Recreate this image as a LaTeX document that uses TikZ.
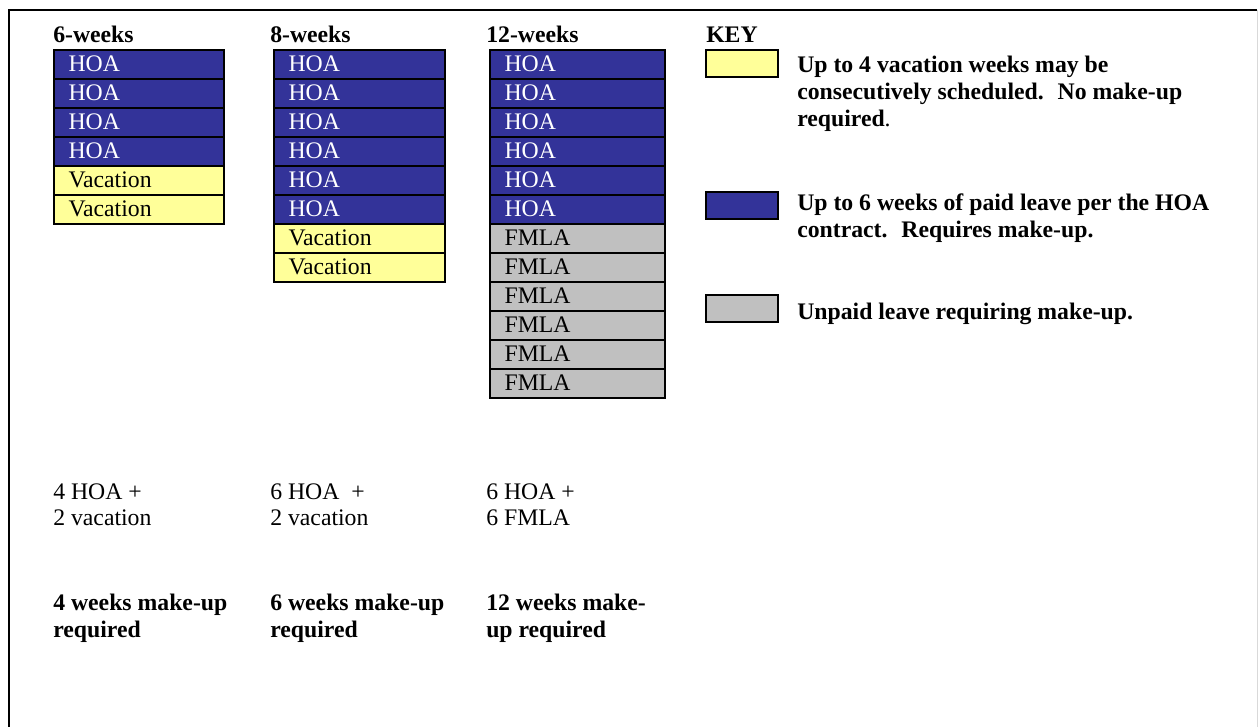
\documentclass[tikz,border=0pt]{standalone}
\usepackage{fontspec}
\setmainfont{Liberation Serif}
\usetikzlibrary{positioning}

\definecolor{hoablue}{RGB}{51,51,153}
\definecolor{vacyellow}{RGB}{255,255,153}
\definecolor{fmlagray}{RGB}{192,192,192}

\begin{document}
\begin{tikzpicture}[x=0.75pt, y=-0.75pt,
  every node/.style={font=\fontsize{17.8}{20.25}\selectfont, inner sep=0pt},
  cell/.style={draw=black, line width=1.4pt, anchor=north west,
    minimum height=21.75pt, inner xsep=11pt, text width=#1*0.75pt-22pt,
    align=left, text height=12.6pt, text depth=1.4pt},
  HOA/.style={fill=hoablue, text=white},
  Vacation/.style={fill=vacyellow, text=black},
  FMLA/.style={fill=fmlagray, text=black},
  keybox/.style={draw=black, line width=1.4pt, anchor=north west,
    minimum width=54pt, minimum height=20.5pt},
  head/.style={anchor=base west, font=\fontsize{17.8}{20.25}\selectfont\bfseries},
  note/.style={anchor=base west, align=left},
  boldnote/.style={note, font=\fontsize{17.8}{20.25}\selectfont\bfseries}]

\useasboundingbox (0,0) rectangle (1258,727);

% frame
\draw[line width=1.4pt] (9,727) -- (9,10) -- (1257,10);
\draw[black!15] (1257,10) -- (1257,727);

% column headings
\node[head] (h6) at (53,43) {6-weeks};
\node[head] (h8) at (270,43) {8-weeks};
\node[head] (h12) at (486,43) {12-weeks};
\node[head] (hkey) at (706,43) {KEY};

% leave blocks
\foreach \lbl [count=\i] in {HOA,HOA,HOA,HOA,Vacation,Vacation}
  \node[cell=170, \lbl] (six-\i) at (53,{49+29*(\i-1)}) {\lbl};
\foreach \lbl [count=\i] in {HOA,HOA,HOA,HOA,HOA,HOA,Vacation,Vacation}
  \node[cell=171, \lbl] (eight-\i) at (273,{49+29*(\i-1)}) {\lbl};
\foreach \lbl [count=\i] in {HOA,HOA,HOA,HOA,HOA,HOA,FMLA,FMLA,FMLA,FMLA,FMLA,FMLA}
  \node[cell=175, \lbl] (twelve-\i) at (489,{49+29*(\i-1)}) {\lbl};

% key (base = last line)
\node[keybox, Vacation] (key-vac) at (705,49) {};
\node[keybox, HOA] (key-hoa) at (705,191) {};
\node[keybox, FMLA] (key-fmla) at (705,294) {};
\node[boldnote] (key-vac-txt) at (797,127)
  {Up to 4 vacation weeks may be\\consecutively scheduled.~ No make-up\\required\textmd{.}};
\node[boldnote] (key-hoa-txt) at (797,238)
  {Up to 6 weeks of paid leave per the HOA\\contract.~ Requires make-up.};
\node[boldnote] (key-fmla-txt) at (797,320)
  {Unpaid leave requiring make-up.};

% totals
\node[note] (sum6) at (53,526) {4 HOA +\\2 vacation};
\node[note] (sum8) at (270,526) {6 HOA~ +\\2 vacation};
\node[note] (sum12) at (486,526) {6 HOA +\\6 FMLA};
\node[boldnote] (make6) at (53,637) {4 weeks make-up\\required};
\node[boldnote] (make8) at (270,637) {6 weeks make-up\\required};
\node[boldnote] (make12) at (486,637) {12 weeks make-\\up required};

\end{tikzpicture}
\end{document}
